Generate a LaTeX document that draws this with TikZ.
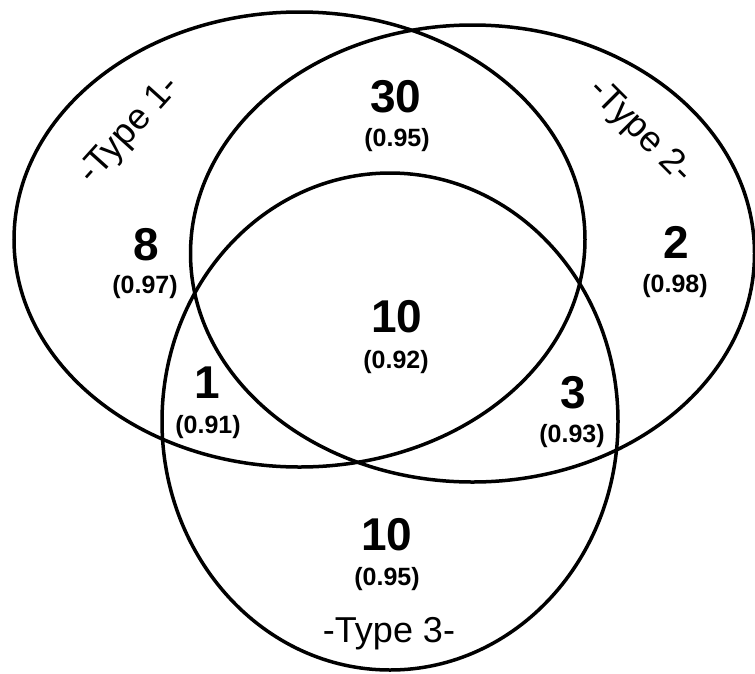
\documentclass[tikz,border=0pt]{standalone}
\usepackage{fontspec}
\setmainfont{Liberation Sans}
\begin{document}
\begin{tikzpicture}[x=1pt,y=-1pt,
  setline/.style={line width=3.5pt, draw=black},
  bignum/.style={font=\fontsize{46}{46}\selectfont\bfseries, inner sep=0pt, anchor=base},
  smallnum/.style={font=\fontsize{25}{25}\selectfont\bfseries, inner sep=0pt, anchor=base},
  typelbl/.style={font=\fontsize{36}{36}\selectfont, inner sep=0pt}]
\useasboundingbox (0,0) rectangle (755,673);
% sets
\draw[setline] (299.5,239.5) ellipse [x radius=285.5pt, y radius=227.5pt];
\draw[setline] (472.5,253.5) ellipse [x radius=282pt, y radius=228.5pt];
\draw[setline] (390,421.5) ellipse [x radius=228pt, y radius=248.5pt];
% labels
\node[typelbl, rotate=48] (t1) at (130,131) {-Type 1-};
\node[typelbl, rotate=-45] (t2) at (640,132) {-Type 2-};
\node[typelbl, anchor=base] (t3) at (389,642) {-Type 3-};
% counts
\node[bignum] (n30) at (396,112) {30};
\node[smallnum] (p30) at (397,146) {(0.95)};
\node[bignum] (n8) at (146,260) {8};
\node[smallnum] (p8) at (145,293) {(0.97)};
\node[bignum] (n2) at (676,258) {2};
\node[smallnum] (p2) at (675,292) {(0.98)};
\node[bignum] (n10a) at (397,332) {10};
\node[smallnum] (p10a) at (396,368) {(0.92)};
\node[bignum] (n1) at (207,398) {1};
\node[smallnum] (p1) at (208,433) {(0.91)};
\node[bignum] (n3) at (573,408) {3};
\node[smallnum] (p3) at (572,442) {(0.93)};
\node[bignum] (n10b) at (387,550) {10};
\node[smallnum] (p10b) at (387,585) {(0.95)};
\end{tikzpicture}
\end{document}
